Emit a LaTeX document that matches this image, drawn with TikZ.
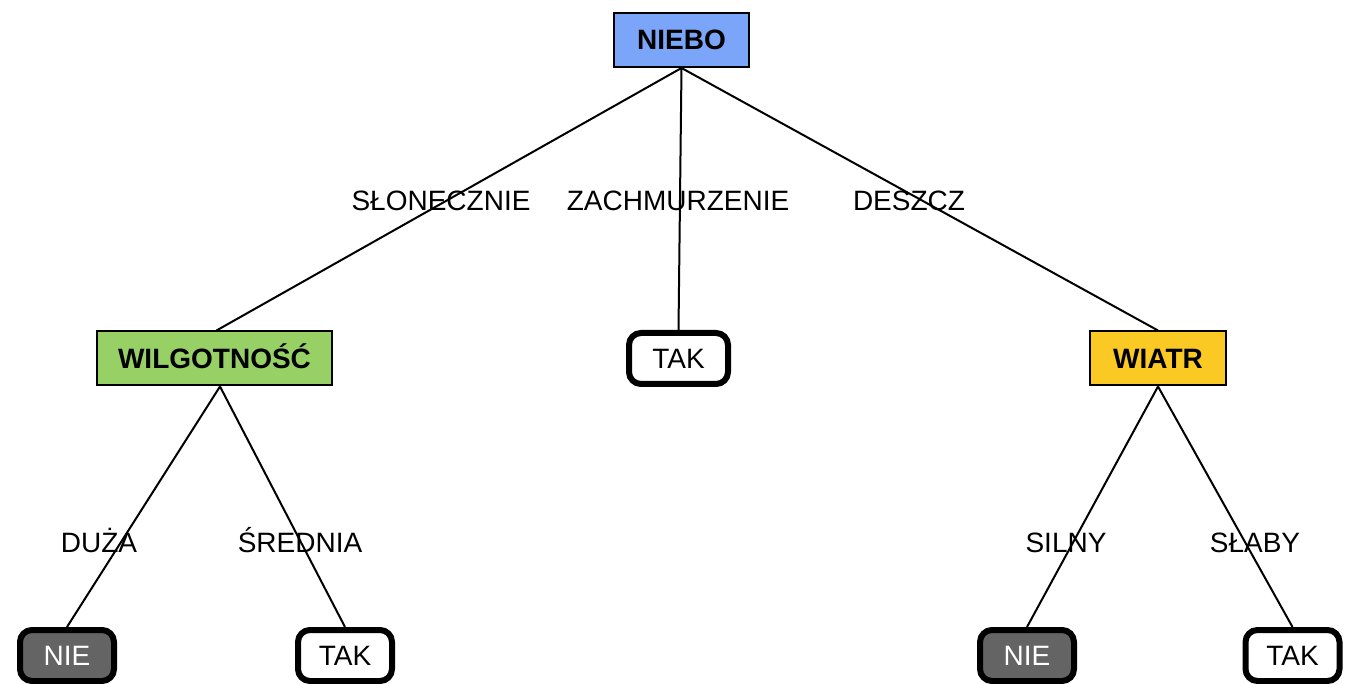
\documentclass[tikz,border=0pt]{standalone}
\usepackage{fontspec}
\setmainfont{Liberation Sans}
\definecolor{rootblue}{HTML}{7AA5F8}
\definecolor{humgreen}{HTML}{97D166}
\definecolor{windyellow}{HTML}{FBC923}
\definecolor{leafgray}{HTML}{646464}
\begin{document}
\begin{tikzpicture}[x=1pt,y=-1pt,
  every node/.style={font=\fontsize{28}{32}\selectfont, inner sep=0pt, text height=20pt, text depth=0pt},
  attr/.style={draw=black, line width=2pt, font=\fontsize{28}{32}\selectfont\bfseries, minimum height=54pt},
  leaf/.style={draw=black, line width=6pt, rounded corners=12pt, minimum width=94pt, minimum height=51pt, fill=white},
  leafno/.style={leaf, fill=leafgray, text=white},
  branch/.style={draw=black, line width=2pt},
  edgelabel/.style={text=black}]
  \useasboundingbox (0,0) rectangle (1345,684);

  % decision nodes
  \node[attr, fill=rootblue, minimum width=135pt] (sky) at (681.5,40) {NIEBO};
  \node[attr, fill=humgreen, minimum width=235pt] (hum) at (214.5,358.5) {WILGOTNOŚĆ};
  \node[attr, fill=windyellow, minimum width=136pt] (wind) at (1158,358.5) {WIATR};

  % leaves
  \node[leaf, minimum width=99pt] (yesmid) at (678.5,358.5) {TAK};
  \node[leafno] (nol) at (67,655.5) {NIE};
  \node[leaf] (yesl) at (345,655.5) {TAK};
  \node[leafno] (nor) at (1027,655.5) {NIE};
  \node[leaf] (yesr) at (1292.5,655.5) {TAK};

  % branches
  \draw[branch] (sky.south) -- ([xshift=2pt]hum.north);
  \draw[branch] (sky.south) -- (yesmid.north);
  \draw[branch] (sky.south) -- (wind.north);
  \draw[branch] ([xshift=5.5pt]hum.south) -- (nol.north);
  \draw[branch] ([xshift=5.5pt]hum.south) -- (yesl.north);
  \draw[branch] (wind.south) -- (nor.north);
  \draw[branch] (wind.south) -- (yesr.north);

  % branch labels
  \node[edgelabel] (l1) at (441,201) {SŁONECZNIE};
  \node[edgelabel] (l2) at (678,201) {ZACHMURZENIE};
  \node[edgelabel] (l3) at (909,201) {DESZCZ};
  \node[edgelabel] (l4) at (99,542) {DUŻA};
  \node[edgelabel] (l5) at (300,542) {ŚREDNIA};
  \node[edgelabel] (l6) at (1066,542) {SILNY};
  \node[edgelabel] (l7) at (1255,542) {SŁABY};
\end{tikzpicture}
\end{document}
